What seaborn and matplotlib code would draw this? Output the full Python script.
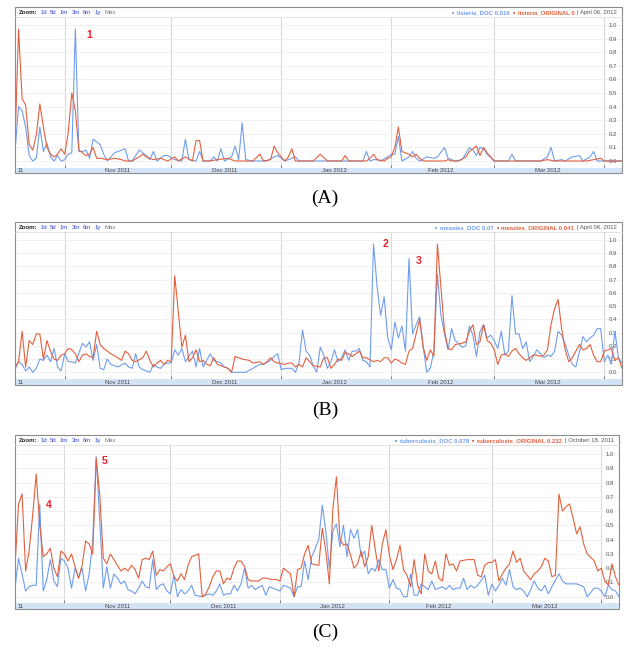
import numpy as np
import pandas as pd
import matplotlib
matplotlib.use('Agg')
import matplotlib.pyplot as plt
from matplotlib.patches import Rectangle
import seaborn as sns

sns.set_style('white')
plt.rcParams['font.family'] = ['Liberation Sans', 'DejaVu Sans']

# ---- data (day offset from 2011-10-18, normalised value) ----
start = pd.Timestamp('2011-10-18')
end = pd.Timestamp('2012-04-06')

listeria_doc = [(0,.07),(1,.40),(2,.37),(3,.25),(4,.04),(5,0),(6,.02),(7,.25),(8,.07),(9,.13),(10,.03),(11,0),(12,.04),
    (13,0),(14,.01),(15,.05),(16,.06),(17,.97),(18,.07),(19,.07),(20,.08),(21,.02),(22,.16),(24,.12),(25,.05),(26,0),
    (28,.06),(31,.09),(32,0),(33,0),(35,.08),(37,.04),(38,.01),(39,.07),(40,0),(42,.04),(43,.04),(45,.01),(47,0),
    (48,.16),(49,.01),(51,0),(52,.07),(53,0),(55,0),(56,.03),(57,0),(58,.09),(59,0),(61,.03),(62,.11),(63,.01),(64,.28),
    (65,.01),(67,0),(68,0),(70,0),(71,0),(73,.03),(74,.04),(76,0),(78,.02),(79,.03),(80,0),(82,0),(84,0),(87,0),(89,0),
    (92,0),(94,0),(97,0),(98,0),(99,.07),(100,0),(101,.01),(102,.01),(103,0),(105,.03),(106,.05),(107,.05),(108,.18),
    (109,0),(111,.03),(112,.07),(113,.02),(114,0),(116,.03),(118,.02),(119,.03),(121,.10),(122,.02),(124,0),(126,.01),
    (128,.10),(129,.08),(130,.04),(131,.10),(132,.09),(133,.05),(135,0),(137,0),(139,0),(140,.05),(141,0),(144,0),
    (148,0),(150,.03),(151,.10),(152,0),(154,.01),(155,0),(157,.03),(159,.04),(160,0),(162,.03),(163,.07),(164,0),
    (166,0),(168,0),(171,0)]
listeria_orig = [(0,.13),(1,.97),(2,.46),(3,.41),(4,.12),(5,.08),(6,.19),(7,.42),(8,.25),(9,.10),(10,.05),(11,.03),
    (12,.05),(13,.09),(14,.05),(15,.21),(16,.50),(17,.37),(18,.08),(19,.06),(20,.04),(21,.05),(22,.10),(23,.02),(24,.02),
    (26,.01),(28,.02),(30,.01),(31,0),(33,0),(35,.03),(36,.05),(37,.03),(39,.01),(41,.02),(43,0),(45,.03),(46,0),(48,.03),
    (50,0),(51,.15),(52,.15),(53,0),(55,0),(57,.01),(60,.02),(62,0),(63,0),(65,0),(67,0),(69,.05),(70,0),(72,.01),
    (73,.11),(74,.06),(76,0),(77,.03),(78,.09),(79,0),(80,0),(82,0),(84,0),(86,.05),(88,0),(90,0),(92,0),(93,.04),(94,0),
    (96,0),(99,0),(100,.02),(101,.05),(102,.01),(104,0),(105,.02),(106,.03),(107,.10),(108,.25),(109,.07),(111,.05),
    (112,.03),(113,.05),(114,.02),(115,0),(116,0),(119,0),(121,0),(122,.01),(123,0),(125,0),(127,.03),(128,.07),(129,.09),
    (130,.11),(131,.04),(132,.10),(133,.06),(134,.03),(135,0),(137,0),(140,0),(144,0),(148,0),(150,.01),(152,0),(154,0),
    (158,0),(161,0),(165,.02),(166,0),(168,0),(171,0)]

measles_doc = [(0,.02),(1,.08),(2,.06),(3,.01),(4,.04),(5,0),(6,.03),(7,.10),(8,.09),(9,.13),(10,.08),(11,.18),(12,.04),
    (13,.01),(14,.14),(15,.08),(16,.08),(17,.07),(19,.22),(20,.19),(21,.23),(22,.09),(23,.21),(24,.03),(25,.02),(26,.10),
    (27,.06),(28,.05),(29,.04),(31,.07),(32,.04),(33,.03),(34,.14),(35,.04),(36,.02),(37,.01),(38,0),(39,.06),(40,.04),
    (41,.03),(42,.06),(43,.07),(44,.07),(45,.17),(46,.13),(47,.18),(48,.08),(50,.16),(51,.04),(52,.18),(53,.04),(54,.09),
    (55,.14),(56,.09),(58,.07),(59,.04),(60,.03),(61,0),(62,0),(63,0),(65,0),(67,.03),(69,.06),(70,.06),(72,.09),(73,.12),
    (74,.14),(75,.02),(76,.03),(78,.03),(79,0),(80,.07),(81,.32),(82,.16),(83,.13),(84,.05),(85,0),(86,.19),(87,.13),
    (88,.03),(89,.08),(90,.17),(91,.08),(92,.11),(93,.17),(94,.09),(95,.16),(96,.16),(97,.18),(98,.09),(99,.08),(100,.04),
    (101,.97),(102,.65),(103,.43),(104,.57),(105,.26),(106,.17),(107,.38),(108,.26),(109,.35),(110,.16),(111,.86),
    (112,.29),(113,.36),(114,.42),(115,.19),(116,0),(117,.03),(118,.16),(119,.74),(120,.43),(121,.29),(122,.17),(123,.33),
    (124,.24),(126,.19),(127,.20),(128,.35),(129,.28),(130,.12),(131,.31),(132,.36),(133,.26),(134,.28),(135,.24),
    (136,.18),(137,.31),(138,.13),(139,.16),(140,.58),(141,.29),(142,.29),(143,.18),(144,.23),(145,.08),(146,.12),
    (147,.17),(148,.14),(149,.11),(150,.13),(151,.12),(152,.16),(153,.31),(154,.28),(155,.21),(156,.13),(157,.06),
    (158,.04),(160,.27),(161,.23),(162,.26),(163,.28),(164,.33),(165,.33),(166,.08),(167,.13),(168,.06),(169,.31),
    (170,.11),(171,.07)]
measles_orig = [(0,.04),(1,.08),(2,.31),(3,.04),(4,.24),(5,.21),(6,.29),(7,.29),(8,.10),(9,.24),(10,.16),(11,.10),
    (12,.09),(13,.13),(14,.14),(15,.18),(16,.17),(17,.14),(18,.08),(19,.13),(20,.14),(21,.12),(22,.11),(23,.31),(24,.21),
    (25,.18),(26,.16),(27,.14),(29,.11),(30,.09),(31,.16),(32,.14),(33,.09),(34,.08),(36,.11),(37,.16),(38,.09),(39,.04),
    (40,.07),(41,.09),(42,.06),(43,.09),(44,.08),(45,.73),(46,.46),(47,.19),(48,.28),(49,.08),(50,.11),(51,.17),(52,.08),
    (53,.09),(54,.06),(55,.05),(56,.11),(57,.06),(59,.04),(60,.03),(61,0),(62,.12),(63,.11),(64,.10),(66,.09),(67,.07),
    (69,.08),(70,.06),(71,.08),(72,.11),(73,.08),(74,.07),(76,.06),(77,.07),(78,.07),(79,.04),(80,.06),(81,.04),(82,.11),
    (84,.05),(86,.04),(87,.11),(88,.11),(89,.03),(90,.06),(91,.10),(92,.09),(93,.15),(94,.14),(95,.12),(96,.14),(97,.16),
    (98,.11),(99,.11),(101,.08),(102,.09),(103,.08),(104,.11),(105,.11),(106,.07),(107,.10),(108,.09),(109,.07),(110,.06),
    (111,.16),(112,.18),(113,.29),(114,.40),(115,.19),(116,.09),(117,.17),(118,.12),(119,.97),(120,.64),(121,.31),
    (122,.18),(123,.17),(124,.21),(126,.22),(127,.23),(128,.31),(129,.36),(130,.21),(131,.23),(132,.36),(133,.24),
    (134,.22),(135,.17),(136,.06),(137,.13),(138,.14),(139,.12),(140,.16),(141,.18),(142,.14),(143,.11),(144,.09),
    (146,.13),(147,.13),(148,.12),(149,.13),(150,.17),(151,.36),(152,.48),(153,.55),(154,.33),(155,.17),(156,.08),
    (157,.11),(159,.21),(160,.17),(161,.18),(162,.21),(163,.13),(164,.08),(165,.08),(166,.16),(168,.18),(169,.09),
    (170,.11),(171,.03)]

tb_doc = [(0,.06),(1,.27),(2,.16),(3,.04),(4,.07),(5,.08),(6,.08),(7,.65),(8,.04),(9,.12),(10,.26),(11,.11),(12,.07),
    (13,.27),(14,.25),(15,.20),(16,.06),(17,.20),(18,.13),(19,.20),(20,.04),(21,.16),(22,.39),(23,.98),(24,.53),(25,.06),
    (26,.21),(27,.06),(28,.16),(29,.13),(30,.09),(31,.11),(32,.05),(33,.04),(34,.02),(35,.06),(36,.11),(37,.07),(38,.06),
    (39,.26),(40,.05),(41,.08),(42,.09),(43,.04),(44,.02),(45,.15),(46,0),(47,.05),(48,.02),(49,.04),(50,.08),(51,.01),
    (53,0),(54,.01),(55,.02),(56,.01),(57,.04),(58,.09),(59,.01),(60,.02),(61,.02),(62,.08),(63,.04),(64,.09),(65,.20),
    (66,.06),(67,.08),(68,.05),(70,.08),(71,.01),(72,.07),(73,.06),(75,.04),(76,.08),(77,.07),(78,.06),(79,0),(80,.07),
    (81,.07),(82,.25),(83,.12),(84,.28),(85,.34),(86,.40),(87,.64),(88,.46),(89,.20),(90,.46),(91,.51),(92,.35),(93,.50),
    (94,.28),(95,.47),(96,.41),(97,.47),(98,.28),(99,.32),(100,.16),(101,.20),(102,.18),(103,.26),(104,.19),(105,.19),
    (106,.06),(107,.12),(108,.06),(109,.05),(110,0),(111,0),(112,.16),(113,.01),(114,.01),(115,.09),(116,.07),(117,.05),
    (118,.11),(119,.05),(120,.06),(121,.07),(122,.05),(123,.08),(124,.05),(125,.06),(126,.06),(127,.13),(128,.05),
    (129,.08),(130,.06),(131,.08),(133,.15),(134,.01),(135,.09),(136,.04),(137,.08),(138,.13),(139,.08),(140,.19),
    (141,.07),(142,.05),(143,.06),(144,.04),(145,0),(146,.05),(147,.11),(148,.06),(149,.04),(150,.08),(151,.02),(152,.07),
    (154,.16),(155,.11),(156,.09),(157,.09),(159,.09),(161,.07),(162,0),(164,.06),(165,.06),(166,.04),(167,0),(168,.08),
    (169,.05),(170,.04),(171,0)]
tb_orig = [(0,.21),(1,.65),(2,.72),(3,.18),(4,.32),(5,.57),(6,.86),(7,.50),(8,.28),(9,.30),(10,.34),(11,.20),(12,.14),
    (13,.32),(14,.30),(15,.25),(16,.30),(17,.21),(18,.13),(19,.22),(20,.39),(21,.37),(22,.30),(23,.97),(24,.71),(25,.27),
    (26,.23),(27,.30),(28,.26),(29,.22),(30,.18),(31,.20),(32,.18),(33,.22),(34,.19),(35,.13),(36,.26),(37,.27),(38,.26),
    (39,.32),(40,.15),(41,.19),(42,.18),(43,.21),(44,.23),(45,.14),(46,.11),(47,.16),(48,.12),(49,.22),(50,.28),(52,.30),
    (53,0),(54,.02),(55,.07),(56,.14),(57,.18),(58,.18),(59,.09),(60,.13),(61,.12),(62,.20),(63,.25),(64,.25),(65,.21),
    (66,.12),(67,.11),(69,.11),(70,.13),(71,.13),(73,.12),(74,.12),(75,.11),(76,.20),(77,.18),(78,.16),(79,0),(80,.19),
    (81,.20),(82,.30),(83,.36),(84,.23),(86,.22),(87,.48),(88,.32),(89,.09),(90,.62),(91,.84),(92,.40),(93,.36),(94,.37),
    (95,.29),(96,.20),(97,.23),(98,.32),(99,.21),(100,.28),(101,.50),(102,.33),(103,.18),(104,.37),(105,.47),(106,.29),
    (107,.19),(108,.26),(109,.36),(110,.19),(111,.15),(112,.07),(113,.26),(114,.08),(115,.02),(116,.30),(117,.18),
    (118,.16),(119,.25),(120,.13),(121,.11),(122,.30),(123,.22),(124,.23),(125,.18),(126,.25),(128,.26),(129,.26),
    (130,.26),(131,.15),(132,.14),(133,.22),(134,.24),(135,.24),(136,.26),(137,.11),(138,.16),(139,.20),(140,.23),
    (141,.32),(142,.24),(143,.27),(144,.18),(145,.15),(146,.12),(147,.16),(148,.18),(149,.21),(150,.27),(151,.25),
    (152,.14),(153,.15),(154,.72),(155,.60),(156,.63),(157,.65),(158,.55),(159,.44),(160,.49),(161,.37),(162,.30),
    (164,.25),(165,.18),(166,.20),(167,.11),(168,.08),(169,.23),(170,.14),(171,.08)]

# band labels: the October label only shows its tail ("11") at the left edge
month_label_dates = ['2011-11-16', '2011-12-16', '2012-01-16', '2012-02-15', '2012-03-16']
month_labels = ['Nov 2011', 'Dec 2011', 'Jan 2012', 'Feb 2012', 'Mar 2012']
first_label = '11'
month_starts = pd.date_range('2011-11-01', '2012-04-01', freq='MS')
y_ticks = [0.0, 0.1, 0.2, 0.3, 0.4, 0.5, 0.6, 0.7, 0.8, 0.9, 1.0]
zoom_links = ['1d', '5d', '1m', '3m', '6m', '1y']

BLUE = '#6f9ded'
RED = '#e3603d'

panels = [
    dict(doc=listeria_doc, orig=listeria_orig, name='listeria', doc_val='0.016', orig_val='0',
         date='April 06, 2012', marks=[('1', 21.0, 0.93)], caption='(A)', cap_y=198,
         box=(15, 7, 622, 173), hb=17, bt=167.5, zero=161, one=25),
    dict(doc=measles_doc, orig=measles_orig, name='measles', doc_val='0.07', orig_val='0.041',
         date='April 06, 2012', marks=[('2', 104.4, 0.97), ('3', 113.7, 0.84)], caption='(B)', cap_y=410,
         box=(15, 222, 622, 385), hb=232, bt=379, zero=372.3, one=240),
    dict(doc=tb_doc, orig=tb_orig, name='tuberculosis', doc_val='0.078', orig_val='0.232',
         date='October 18, 2011', marks=[('4', 9.5, 0.64), ('5', 25.3, 0.95)], caption='(C)', cap_y=632,
         box=(15, 435, 619, 609), hb=445, bt=603, zero=596.7, one=454),
]

W, H = 624, 650
fig = plt.figure(figsize=(W / 100, H / 100), dpi=100)
ov = fig.add_axes([0, 0, 1, 1], zorder=5)
ov.set_xlim(0, W)
ov.set_ylim(H, 0)
ov.axis('off')


def rect(x0, y0, x1, y1):
    return [x0 / W, 1 - y1 / H, (x1 - x0) / W, (y1 - y0) / H]


def make_df(p):
    parts = []
    for label, pts in ((p['name'] + '_DOC', p['doc']), (p['name'] + '_ORIGINAL', p['orig'])):
        d, v = zip(*pts)
        parts.append(pd.DataFrame({'date': start + pd.to_timedelta(list(d), unit='D'),
                                   'value': v, 'series': label}))
    return pd.concat(parts, ignore_index=True)


for p in panels:
    x0, top, x1, bot = p['box']
    hb, bt = p['hb'], p['bt']
    unit = p['zero'] - p['one']

    ax = fig.add_axes(rect(x0, hb, x1, bt))
    band = fig.add_axes(rect(x0, bt, x1, bot), sharex=ax)

    df = make_df(p)
    sns.lineplot(data=df, x='date', y='value', hue='series',
                 hue_order=[p['name'] + '_DOC', p['name'] + '_ORIGINAL'],
                 palette=[BLUE, RED], estimator=None, legend=False, linewidth=0.8, ax=ax)
    ax.set_xlim(start, end)
    ax.set_ylim(-(bt - p['zero']) / unit, 1 + (p['one'] - hb) / unit)
    ax.set_xlabel('')
    ax.set_ylabel('')
    ax.set_xticks(month_starts)
    ax.tick_params(axis='x', bottom=True, direction='in', length=2.5, width=0.7,
                   color='#777777', labelbottom=False)
    ax.yaxis.tick_right()
    ax.set_yticks(y_ticks)
    ax.set_yticklabels([f'{t:.1f}' for t in y_ticks])
    ax.tick_params(axis='y', length=0, pad=-9.5, labelsize=4.3, labelcolor='#555555')
    ax.grid(True, axis='y', color='#efefef', lw=0.6)
    ax.grid(True, axis='x', color='#d9d9d9', lw=0.8)
    ax.set_axisbelow(True)
    for s in ax.spines.values():
        s.set_visible(False)

    for lab, d, v in p['marks']:
        ax.text(start + pd.Timedelta(days=d), v, lab, color='#e8202a', fontweight='bold',
                fontsize=7.5, ha='center', va='center')

    band.set_facecolor('#d4e4f7')
    band.set_yticks([])
    band.tick_params(axis='x', length=0, labelbottom=False)
    for s in band.spines.values():
        s.set_visible(False)
    band.text(0.004, 0.45, first_label, transform=band.transAxes, ha='left', va='center',
              fontsize=4.3, color='#444444')
    for d, lab in zip(month_label_dates, month_labels):
        band.text(pd.Timestamp(d), 0.45, lab, transform=band.get_xaxis_transform(),
                  ha='center', va='center', fontsize=4.3, color='#444444')

    # outer frame and header
    ov.add_patch(Rectangle((x0, top), x1 - x0, bot - top, fill=False, ec='#8c8c8c', lw=0.8))
    ov.plot([x0, x1], [hb, hb], color='#dddddd', lw=0.6)
    hy = (top + hb) / 2 + 0.5

    prev = ov.text(x0 + 3.5, hy, 'Zoom:', fontsize=4.3, fontweight='bold', color='#222222',
                   ha='left', va='center')
    for lab in zoom_links:
        prev = ov.annotate(lab, xy=(1, 0.5), xycoords=prev, xytext=(2.3, 0), textcoords='offset points',
                           ha='left', va='center', fontsize=4.3, color='#3344cc')
    ov.annotate('Max', xy=(1, 0.5), xycoords=prev, xytext=(2.3, 0), textcoords='offset points',
                ha='left', va='center', fontsize=4.3, color='#777777')

    prev = ov.text(x1 - 5, hy, '| ' + p['date'], fontsize=4.3, color='#555555', ha='right', va='center')
    items = [(p['name'] + '_ORIGINAL ' + p['orig_val'], RED, 'bold', 4.3),
             ('\u25a0', RED, 'normal', 2.6),
             (p['name'] + '_DOC ' + p['doc_val'], BLUE, 'bold', 4.3),
             ('\u25a0', BLUE, 'normal', 2.6)]
    for txt, col, fw, fs in items:
        prev = ov.annotate(txt, xy=(0, 0.5), xycoords=prev, xytext=(-2.0, 0), textcoords='offset points',
                           ha='right', va='center', fontsize=fs, fontweight=fw, color=col)

    ov.text(325, p['cap_y'], p['caption'], ha='center', va='center', fontsize=14,
            family='Liberation Serif', color='black')

fig.savefig('out.png', dpi=100)
